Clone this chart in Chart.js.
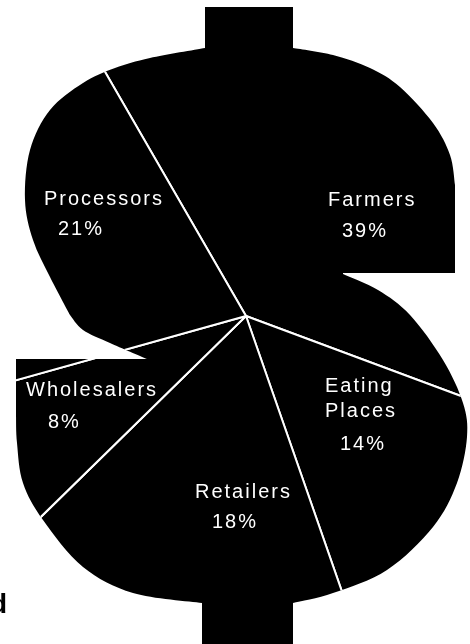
<!DOCTYPE html>
<html>
<head>
<meta charset="utf-8">
<script src="https://cdn.jsdelivr.net/npm/chart.js@4.4.1/dist/chart.umd.min.js"></script>
<style>
  html, body { margin: 0; padding: 0; background: #fff; overflow: hidden; }
  #dollarCanvas { display: block; }
</style>
</head>
<body>
<canvas id="dollarCanvas" width="470" height="644"></canvas>
<script>
// who gets the food dollar
const categories = ['Farmers', 'Eating Places', 'Retailers', 'Wholesalers', 'Processors'];
const shares = [39, 14, 18, 8, 21];

// label lines: x = left edge, y = baseline (last one is the percent line)
const labelSpots = [
  [[328, 206], [342, 237]],
  [[325, 392], [325, 417], [340, 450]],
  [[195, 498], [212, 528]],
  [[26, 396], [48, 428]],
  [[44, 205], [58, 235]],
];

// outline of the $ sign, the pie is clipped to it
const dollarOutline = [
  ['line', [[205, 48], [205, 7], [293, 7], [293, 48]]],
  ['curve', [[293, 48], [333, 55], [370, 68], [400, 87], [433, 123], [450, 155], [455, 185]]],
  ['line', [[455, 273], [343, 273]]],
  ['curve', [[343, 274], [378, 290], [410, 315], [443, 360], [463, 403], [467, 437], [457, 483], [433, 527], [387, 570], [333, 593], [293, 603]]],
  ['line', [[293, 644], [202, 644], [202, 603]]],
  ['curve', [[202, 603], [133, 593], [83, 567], [43, 520], [23, 483], [17, 443], [16, 415]]],
  ['line', [[16, 359], [147, 359]]],
  ['curve', [[147, 359], [110, 343], [83, 330], [70, 315]]],
  ['curve', [[70, 315], [50, 277], [33, 240], [25, 200], [30, 150], [50, 110], [83, 83], [115, 68], [150, 58], [205, 48]]],
];

function traceOutline(ctx) {
  ctx.beginPath();
  ctx.moveTo(dollarOutline[0][1][0][0], dollarOutline[0][1][0][1]);
  dollarOutline.forEach(([kind, pts]) => {
    if (kind === 'line') {
      pts.forEach(p => ctx.lineTo(p[0], p[1]));
      return;
    }
    // catmull-rom through the points
    ctx.lineTo(pts[0][0], pts[0][1]);
    for (let i = 0; i < pts.length - 1; i++) {
      const p0 = pts[i - 1] || pts[i];
      const p1 = pts[i];
      const p2 = pts[i + 1];
      const p3 = pts[i + 2] || pts[i + 1];
      ctx.bezierCurveTo(
        p1[0] + (p2[0] - p0[0]) / 6, p1[1] + (p2[1] - p0[1]) / 6,
        p2[0] - (p3[0] - p1[0]) / 6, p2[1] - (p3[1] - p1[1]) / 6,
        p2[0], p2[1]
      );
    }
  });
  ctx.closePath();
}

const dollarClip = {
  id: 'dollarClip',
  beforeDatasetsDraw(chart) {
    const ctx = chart.ctx;
    ctx.save();
    traceOutline(ctx);
    ctx.clip();
  },
  afterDatasetsDraw(chart) {
    const ctx = chart.ctx;
    ctx.restore();

    ctx.save();
    ctx.fillStyle = '#fff';
    ctx.font = '20px "Liberation Sans", Arial, sans-serif';
    ctx.letterSpacing = '2px';
    ctx.textAlign = 'left';
    ctx.textBaseline = 'alphabetic';
    categories.forEach((name, i) => {
      const lines = name.split(' ').concat(shares[i] + '%');
      lines.forEach((t, j) => ctx.fillText(t, labelSpots[i][j][0], labelSpots[i][j][1]));
    });

    // stray letter cut off at the left edge of the scan
    ctx.fillStyle = '#000';
    ctx.letterSpacing = '0px';
    ctx.font = 'bold 28px "Liberation Sans", Arial, sans-serif';
    ctx.textAlign = 'right';
    ctx.fillText('d', 7, 613);
    ctx.restore();
  }
};

new Chart(document.getElementById('dollarCanvas'), {
  type: 'pie',
  data: {
    labels: categories,
    datasets: [{
      data: shares,
      backgroundColor: '#000',
      borderColor: '#fff',
      borderWidth: 2,
      clip: false,
    }],
  },
  options: {
    responsive: false,
    animation: false,
    rotation: 330,
    radius: 360,
    layout: { padding: { left: 22, bottom: 12 } },
    plugins: {
      legend: { display: false },
      tooltip: { enabled: false },
    },
  },
  plugins: [dollarClip],
});
</script>
</body>
</html>
